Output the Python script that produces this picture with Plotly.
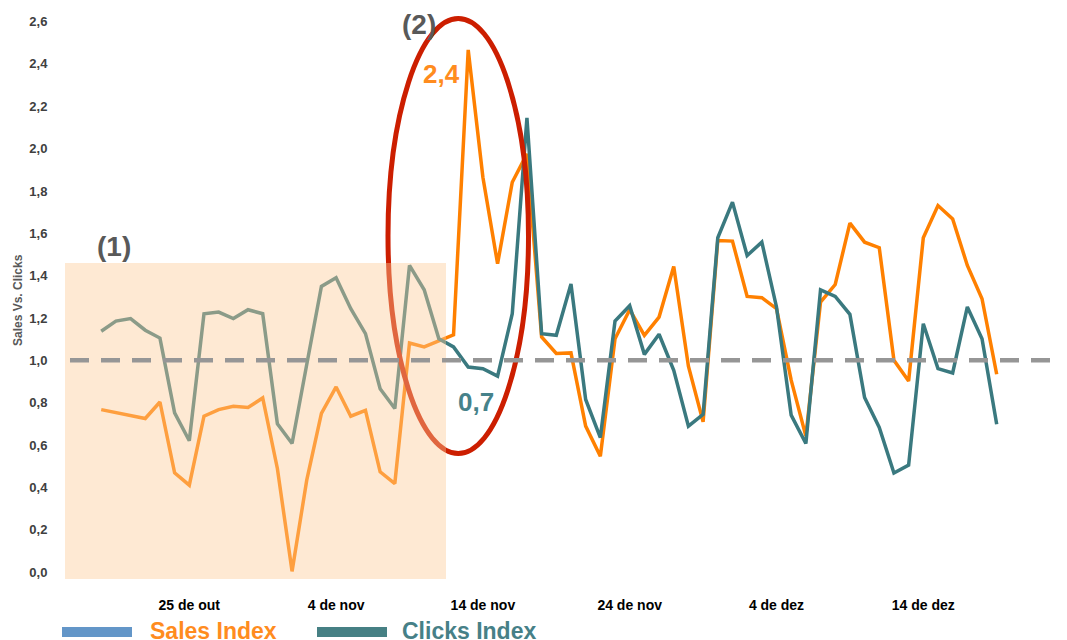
import pandas as pd
import plotly.graph_objects as go

# ---------------- data ----------------
start_date = "2023-10-19"
n_days = 62
dates = pd.date_range(start_date, periods=n_days, freq="D")

sales_index = [
    0.767, 0.753, 0.739, 0.725, 0.803, 0.468, 0.410, 0.736, 0.767, 0.783,
    0.777, 0.822, 0.489, 0.003, 0.434, 0.749, 0.874, 0.736, 0.764, 0.473,
    0.418, 1.082, 1.063, 1.091, 1.120, 2.466, 1.865, 1.456, 1.841, 1.975,
    1.110, 1.032, 1.035, 0.689, 0.547, 1.102, 1.239, 1.118, 1.204, 1.443,
    0.972, 0.709, 1.566, 1.563, 1.302, 1.296, 1.244, 0.906, 0.642, 1.275,
    1.358, 1.648, 1.558, 1.532, 1.000, 0.902, 1.579, 1.731, 1.668, 1.448,
    1.291, 0.934,
]
clicks_index = [
    1.137, 1.185, 1.197, 1.142, 1.105, 0.752, 0.620, 1.220, 1.228, 1.197,
    1.239, 1.220, 0.700, 0.607, 0.980, 1.349, 1.390, 1.244, 1.126, 0.866,
    0.772, 1.448, 1.333, 1.102, 1.063, 0.968, 0.960, 0.925, 1.220, 2.145,
    1.126, 1.118, 1.360, 0.815, 0.635, 1.185, 1.258, 1.028, 1.123, 0.953,
    0.689, 0.745, 1.579, 1.747, 1.495, 1.558, 1.252, 0.741, 0.607, 1.333,
    1.302, 1.217, 0.824, 0.683, 0.468, 0.505, 1.173, 0.961, 0.940, 1.252,
    1.102, 0.698,
]
baseline = 1.0

x_tick_dates = ["2023-10-25", "2023-11-04", "2023-11-14", "2023-11-24", "2023-12-04", "2023-12-14"]
x_tick_labels = ["25 de out", "4 de nov", "14 de nov", "24 de nov", "4 de dez", "14 de dez"]
y_tick_vals = [0.0, 0.2, 0.4, 0.6, 0.8, 1.0, 1.2, 1.4, 1.6, 1.8, 2.0, 2.2, 2.4, 2.6]

peak_sales_label = "2,4"
low_clicks_label = "0,7"

# ---------------- layout geometry ----------------
W, H = 1067, 640
OFF = 8                      # page body margin offset of the rendered figure
L, R, T, B = 52, 1059, 0, 587   # plot area in figure pixels
PW, PH = R - L, B - T


def px(x):
    """screen pixel x -> paper x"""
    return (x - OFF - L) / PW


def py(y):
    """screen pixel y -> paper y"""
    return (B - (y - OFF)) / PH


ORANGE = "rgb(255,128,0)"
TEAL = "rgb(58,121,127)"
GRAY_TXT = "rgb(89,89,89)"
FONT = "Liberation Sans"

ref_day = pd.Timestamp("2023-10-25")
px_per_day = 14.68
ref_px = 189.3
x_min = ref_day + pd.Timedelta(days=(L + OFF - ref_px) / px_per_day)
x_max = ref_day + pd.Timedelta(days=(R + OFF - ref_px) / px_per_day)
y_per_unit = 211.7
y_zero_px = 572
y_min = (y_zero_px - (B + OFF)) / y_per_unit
y_max = (y_zero_px - (T + OFF)) / y_per_unit

fig = go.Figure()
fig.add_trace(go.Scatter(x=dates, y=sales_index, mode="lines", name="Sales Index",
                         line=dict(color=ORANGE, width=3.5), showlegend=False))
fig.add_trace(go.Scatter(x=dates, y=clicks_index, mode="lines", name="Clicks Index",
                         line=dict(color=TEAL, width=3.5), showlegend=False))

shapes = []
# red ellipse (below the shaded rect so it blends)
shapes.append(dict(type="circle", xref="paper", yref="paper",
                   x0=px(388), x1=px(528.5), y0=py(453.5), y1=py(18.5),
                   line=dict(color="rgb(204,30,0)", width=5), layer="above"))
# shaded period (1)
shapes.append(dict(type="rect", xref="paper", yref="paper",
                   x0=px(65), x1=px(446), y0=py(579), y1=py(263),
                   fillcolor="rgb(252,203,150)", opacity=0.42,
                   line=dict(width=0), layer="above"))
# dashed baseline
shapes.append(dict(type="line", xref="paper", yref="y",
                   x0=px(70), x1=1, y0=baseline, y1=baseline,
                   line=dict(color="rgb(150,150,150)", width=4.5, dash="19px,12px"),
                   layer="above"))
# legend swatches
shapes.append(dict(type="rect", xref="paper", yref="paper",
                   x0=px(62), x1=px(132), y0=py(637), y1=py(627),
                   fillcolor="rgb(99,150,200)", line=dict(width=0)))
shapes.append(dict(type="rect", xref="paper", yref="paper",
                   x0=px(317), x1=px(387), y0=py(637), y1=py(627),
                   fillcolor="rgb(70,128,132)", line=dict(width=0)))

annotations = [
    dict(text="<b>(1)</b>", x=px(114), y=py(246), font=dict(size=28, color=GRAY_TXT)),
    dict(text="<b>(2)</b>", x=px(419), y=py(24), font=dict(size=28, color=GRAY_TXT)),
    dict(text=f"<b>{peak_sales_label}</b>", x=px(441), y=py(74),
         font=dict(size=26, color="rgb(255,140,30)")),
    dict(text=f"<b>{low_clicks_label}</b>", x=px(476), y=py(402),
         font=dict(size=26, color="rgb(70,130,138)")),
    dict(text="<b>Sales Vs. Clicks</b>", x=px(18), y=py(300), textangle=-90,
         font=dict(size=12, color=GRAY_TXT)),
    dict(text="<b>Sales Index</b>", x=px(148), y=py(631), xanchor="left",
         font=dict(size=23, color="rgb(255,140,30)")),
    dict(text="<b>Clicks Index</b>", x=px(400), y=py(631), xanchor="left",
         font=dict(size=23, color="rgb(70,128,135)")),
]
for a in annotations:
    a.setdefault("xref", "paper")
    a.setdefault("yref", "paper")
    a.setdefault("showarrow", False)
    a.setdefault("xanchor", "center")
    a.setdefault("yanchor", "middle")
    a["font"]["family"] = FONT

fig.update_layout(
    width=W, height=H, autosize=False,
    margin=dict(l=L, r=W - R, t=T, b=H - B, pad=0),
    paper_bgcolor="white", plot_bgcolor="white",
    separators=",.",
    font=dict(family=FONT),
    shapes=shapes, annotations=annotations,
    showlegend=False,
    xaxis=dict(type="date", range=[x_min, x_max], tickvals=x_tick_dates,
               ticktext=[f"<b>{t}</b>" for t in x_tick_labels],
               tickfont=dict(size=14, color="black", family=FONT),
               showgrid=False, zeroline=False, showline=False,
               ticks="", ticklen=0),
    yaxis=dict(range=[y_min, y_max], tickvals=y_tick_vals, tickformat=".1f",
               tickfont=dict(size=13, color="rgb(64,64,64)", family=FONT, weight="bold"),
               showgrid=False, zeroline=False, showline=False,
               ticks="outside", ticklen=9, tickcolor="rgba(0,0,0,0)"),
)

fig.write_html("out.html")
